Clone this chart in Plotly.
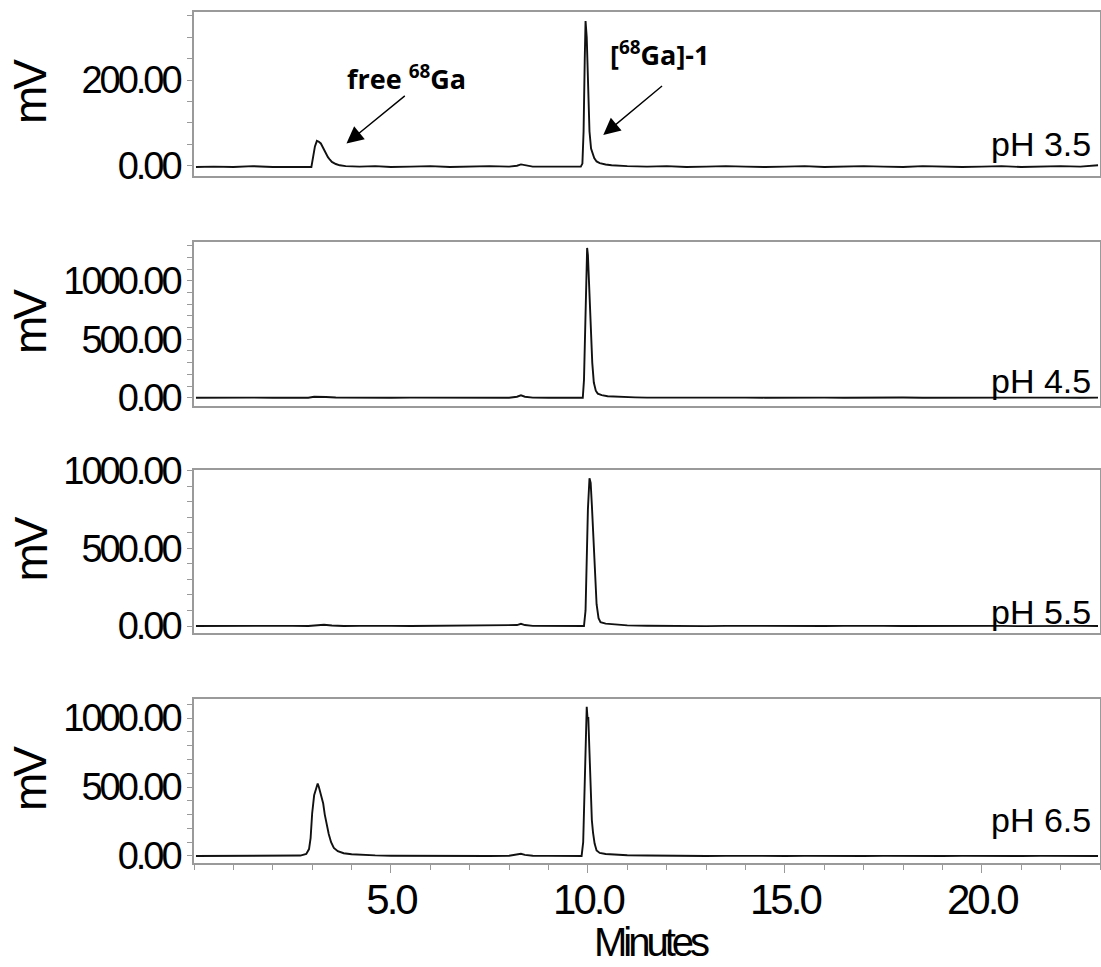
import plotly.graph_objects as go

# ---- data: (minutes, mV) ----
ph35_trace = [(0.05, -3), (0.5, -2), (1.0, -3), (1.5, -1), (2.0, -3), (2.5, -2), (2.8, -3),
              (2.98, -3), (3.02, 15), (3.07, 45), (3.12, 58), (3.17, 56), (3.22, 52), (3.26, 44),
              (3.3, 36), (3.35, 28), (3.4, 20), (3.45, 14), (3.5, 9), (3.6, 4), (3.7, 1), (3.85, -1),
              (4.2, -2), (4.6, -1), (5.0, -3), (5.5, -2), (6.0, -1), (6.5, -3), (7.0, -2), (7.5, -1),
              (8.0, -2), (8.2, 0), (8.3, 3), (8.4, 1), (8.6, -2), (9.0, -2), (9.5, -3), (9.82, -2),
              (9.86, 5), (9.89, 80), (9.92, 250), (9.94, 338), (9.97, 300), (10.0, 180), (10.04, 80),
              (10.08, 40), (10.12, 28), (10.16, 18), (10.22, 10), (10.3, 6), (10.45, 3), (10.6, 1),
              (11.0, -1), (11.5, -2), (12.0, -1), (12.5, -3), (13.0, -2), (13.5, -1), (14.0, -2),
              (14.5, -3), (15.0, -2), (15.5, -1), (16.0, -3), (16.5, -2), (17.0, -1), (17.5, -2),
              (18.0, -3), (18.5, -1), (19.0, -2), (19.5, -3), (20.0, -2), (20.5, -1), (21.0, -3),
              (21.5, -2), (22.0, -1), (22.5, -2), (22.95, 1)]

ph45_trace = [(0.05, 0), (0.5, 2), (1.0, -2), (1.5, 1), (2.0, 0), (2.5, 2), (2.9, 0), (3.05, 8),
              (3.2, 10), (3.35, 6), (3.6, 2), (4.0, 0), (4.5, 2), (5.0, -1), (5.5, 1), (6.0, 0),
              (6.5, 2), (7.0, 0), (7.5, 1), (8.0, 0), (8.2, 8), (8.3, 20), (8.4, 8), (8.6, 1),
              (9.0, 0), (9.5, 1), (9.87, 0), (9.9, 150), (9.93, 600), (9.96, 1150), (9.98, 1280),
              (10.0, 1220), (10.03, 950), (10.07, 550), (10.11, 300), (10.15, 130), (10.2, 60),
              (10.25, 35), (10.35, 22), (10.5, 12), (10.8, 6), (11.2, 3), (11.5, 1), (12.0, 2),
              (12.5, 0), (13.0, 1), (13.5, -1), (14.0, 1), (14.5, 0), (15.0, 2), (15.5, 0),
              (16.0, 1), (16.5, -1), (17.0, 1), (17.5, 0), (18.0, 2), (18.5, 0), (19.0, 1),
              (19.5, -1), (20.0, 1), (20.5, 0), (21.0, 2), (21.5, 0), (22.0, 1), (22.5, -1), (22.95, 1)]

ph55_trace = [(0.05, 0), (0.5, 1), (1.0, -1), (1.5, 1), (2.0, 0), (2.5, 1), (2.9, 0), (3.1, 6),
              (3.3, 8), (3.5, 3), (3.8, 0), (4.2, 1), (4.6, -1), (5.0, 1), (5.5, 0), (6.0, 1),
              (6.5, -1), (7.0, 1), (7.5, 0), (8.0, 1), (8.2, 6), (8.3, 14), (8.4, 6), (8.6, 1),
              (9.0, 0), (9.5, 1), (9.9, 0), (9.94, 100), (9.97, 400), (10.0, 750), (10.04, 950),
              (10.07, 920), (10.1, 780), (10.14, 560), (10.18, 320), (10.22, 140), (10.27, 50),
              (10.32, 25), (10.45, 15), (10.7, 8), (11.0, 4), (11.5, 2), (12.0, 0), (12.5, 1),
              (13.0, -1), (13.5, 1), (14.0, 0), (14.5, 1), (15.0, -1), (15.5, 1), (16.0, 0),
              (16.5, 1), (17.0, -1), (17.5, 1), (18.0, 0), (18.5, 1), (19.0, -1), (19.5, 1),
              (20.0, 0), (20.5, 1), (21.0, -1), (21.5, 1), (22.0, 0), (22.5, 1), (22.95, 0)]

ph65_trace = [(0.05, 0), (0.5, 1), (1.0, -1), (1.5, 1), (2.0, 0), (2.4, 2), (2.7, 3), (2.85, 15),
              (2.92, 50), (2.96, 130), (3.0, 310), (3.05, 440), (3.1, 490), (3.14, 525), (3.17, 500),
              (3.2, 470), (3.24, 430), (3.28, 380), (3.32, 300), (3.37, 220), (3.42, 160), (3.48, 100),
              (3.55, 58), (3.65, 35), (3.8, 20), (4.0, 12), (4.3, 6), (4.6, 4), (5.0, 2), (5.5, 1),
              (6.0, 2), (6.5, 0), (7.0, 1), (7.5, 0), (8.0, 2), (8.2, 8), (8.3, 16), (8.4, 8),
              (8.6, 2), (9.0, 1), (9.5, 0), (9.84, 0), (9.88, 100), (9.91, 400), (9.94, 800),
              (9.97, 1082), (9.99, 1000), (10.01, 1000), (10.04, 750), (10.07, 480), (10.1, 260),
              (10.13, 170), (10.17, 90), (10.22, 40), (10.3, 22), (10.45, 14), (10.7, 8), (11.0, 5),
              (11.5, 3), (12.0, 1), (12.5, 2), (13.0, 0), (13.5, 1), (14.0, -1), (14.5, 1), (15.0, 0),
              (15.5, 1), (16.0, -1), (16.5, 1), (17.0, 0), (17.5, 1), (18.0, -1), (18.5, 1), (19.0, 0),
              (19.5, 1), (20.0, -1), (20.5, 1), (21.0, 0), (21.5, 1), (22.0, -1), (22.5, 1), (22.95, 0)]

panel_labels = ["pH 3.5", "pH 4.5", "pH 5.5", "pH 6.5"]
y_ranges = [(-24, 359), (-71, 1331), (-45, 1003), (-51, 1138)]
y_major = [[0, 200], [0, 500, 1000], [0, 500, 1000], [0, 500, 1000]]
y_minor = [50, 100, 100, 100]
x_major = [5, 10, 15, 20]
x_range = (0, 23)

# ---- layout geometry (pixels of the 1101x967 page) ----
W, H = 1101, 967
x_left, x_right = 194, 1100
panel_px = [(12, 176), (242, 406), (470, 633), (699, 863)]
label_frac = [0.195, 0.15, 0.13, 0.26]

AX_COLOR = "#9a9a9a"
SANS = "Liberation Sans, Arial, Helvetica, sans-serif"
TICK_FONT = dict(family=SANS, size=38, color="black")

fig = go.Figure()
traces = [ph35_trace, ph45_trace, ph55_trace, ph65_trace]
annotations = []
tight_ann = []

for i, tr in enumerate(traces):
    n = "" if i == 0 else str(i + 1)
    t = [p[0] for p in tr]
    v = [p[1] for p in tr]
    fig.add_trace(go.Scatter(x=t, y=v, mode="lines", xaxis="x" + n, yaxis="y" + n,
                             line=dict(color="#111111", width=1.9), showlegend=False,
                             hoverinfo="skip"))
    top, bot = panel_px[i]
    ydom = [1 - bot / H, 1 - top / H]
    xdom = [x_left / W, x_right / W]
    is_bottom = (i == 3)
    fig.layout["xaxis" + n] = dict(
        domain=xdom, range=list(x_range), anchor="y" + n, automargin=False,
        showline=True, mirror=True, linecolor=AX_COLOR, linewidth=1.5,
        showgrid=False, zeroline=False,
        tickmode="array", tickvals=x_major if is_bottom else [],
        ticktext=[f"{v:.1f}" for v in x_major] if is_bottom else [],
        ticks="outside" if is_bottom else "", ticklen=8, tickcolor=AX_COLOR, tickwidth=1.2,
        tickfont=dict(family=SANS, size=42, color="black"),
        ticklabelstandoff=-9 if is_bottom else 0,
        minor=dict(dtick=1, tick0=0, ticks="outside" if is_bottom else "", ticklen=5,
                   tickcolor=AX_COLOR, tickwidth=1.2, showgrid=False),
        fixedrange=True,
    )
    fig.layout["yaxis" + n] = dict(
        domain=ydom, range=list(y_ranges[i]), anchor="x" + n, automargin=False,
        showline=True, mirror=True, linecolor=AX_COLOR, linewidth=1.5,
        showgrid=False, zeroline=False,
        tickmode="array", tickvals=y_major[i], ticktext=[f"{v:.2f}" for v in y_major[i]],
        ticks="outside", ticklen=5, tickcolor=AX_COLOR, tickwidth=1.2,
        tickfont=TICK_FONT,
        minor=dict(dtick=y_minor[i], tick0=0, ticks="outside", ticklen=5,
                   tickcolor=AX_COLOR, tickwidth=1.2, showgrid=False),
        fixedrange=True,
    )
    # mV axis label
    tight_ann.append(len(annotations))
    annotations.append(dict(text="mV", xref="paper", x=30 / W, xanchor="center",
                            yref="y" + n + " domain", y=0.5, yanchor="middle",
                            textangle=-90, showarrow=False,
                            font=dict(family=SANS, size=46, color="black")))
    # pH label
    annotations.append(dict(text=panel_labels[i], xref="x" + n + " domain", x=0.992,
                            xanchor="right", yref="y" + n + " domain", y=label_frac[i],
                            yanchor="middle", showarrow=False,
                            font=dict(family=SANS, size=34, color="black")))

# x-axis title
tight_ann.append(len(annotations))
annotations.append(dict(text="Minutes", xref="paper", x=650 / W, xanchor="center",
                        yref="paper", y=1 - 942 / H, yanchor="middle", showarrow=False,
                        font=dict(family=SANS, size=40, color="black")))

# peak annotations (top panel)
ANN_FONT = dict(family="Open Sans", size=27, color="black", weight="bold")
annotations.append(dict(text="<b>free <sup>68</sup>Ga</b>", xref="x", yref="y", x=5.39, y=205,
                        showarrow=False, font=ANN_FONT))
annotations.append(dict(text="<b>[<sup>68</sup>Ga]-1</b>", xref="x", yref="y", x=11.84, y=262,
                        showarrow=False, font=ANN_FONT))
annotations.append(dict(text="", xref="x", yref="y", x=3.87, y=52, axref="x", ayref="y",
                        ax=5.39, ay=166, showarrow=True, arrowhead=2, arrowsize=2.4,
                        arrowwidth=1.4, arrowcolor="black"))
annotations.append(dict(text="", xref="x", yref="y", x=10.39, y=72, axref="x", ayref="y",
                        ax=11.92, ay=189, showarrow=True, arrowhead=2, arrowsize=2.4,
                        arrowwidth=1.4, arrowcolor="black"))

fig.update_layout(width=W, height=H, margin=dict(l=0, r=0, t=0, b=0, autoexpand=False),
                  paper_bgcolor="white", plot_bgcolor="white", template="none",
                  annotations=annotations, showlegend=False)

# page without default body margin; tight letter tracking like the original Helvetica
css = "html,body{margin:0;padding:0;overflow:hidden;} "
css += ".xaxislayer-above text, .yaxislayer-above text {letter-spacing:-3px;} "
css += " ".join(f'g.annotation[data-index="{k}"] text {{letter-spacing:-4px;}}' for k in tight_ann)
post = ("var s=document.createElement('style');s.textContent=" + repr(css) +
        ";document.head.appendChild(s);")

fig.write_html("out.html", post_script=post, config={"displayModeBar": False})
